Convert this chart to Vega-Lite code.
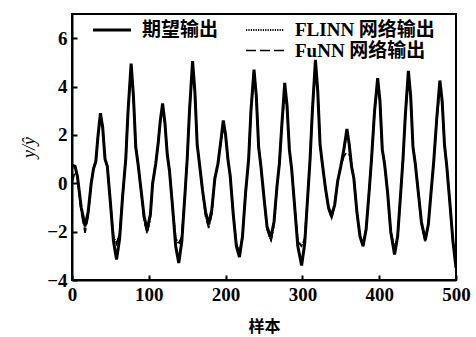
{
  "$schema": "https://vega.github.io/schema/vega-lite/v6.json",
  "width": 384,
  "height": 266,
  "autosize": {"type": "none"},
  "padding": {"left": 72, "top": 14, "right": 20, "bottom": 57},
  "background": "white",
  "config": {
    "view": {"stroke": "black", "strokeWidth": 2},
    "font": "Liberation Serif"
  },
  "data": {"values": [
    {"x":0,"期望输出":0.75,"FLINN 网络输出":0.6,"FuNN 网络输出":0.0},
    {"x":4,"期望输出":0.7,"FLINN 网络输出":0.7,"FuNN 网络输出":0.5},
    {"x":7,"期望输出":0.3,"FLINN 网络输出":0.3,"FuNN 网络输出":0.3},
    {"x":12,"期望输出":-1.0,"FLINN 网络输出":-1.1,"FuNN 网络输出":-1.2},
    {"x":17,"期望输出":-1.75,"FLINN 网络输出":-1.85,"FuNN 网络输出":-2.05},
    {"x":21,"期望输出":-1.2,"FLINN 网络输出":-1.3,"FuNN 网络输出":-1.4},
    {"x":25,"期望输出":0.0,"FLINN 网络输出":0.0,"FuNN 网络输出":0.0},
    {"x":28,"期望输出":0.6,"FLINN 网络输出":0.6,"FuNN 网络输出":0.6},
    {"x":31,"期望输出":0.9,"FLINN 网络输出":0.9,"FuNN 网络输出":0.9},
    {"x":34,"期望输出":2.0,"FLINN 网络输出":2.0,"FuNN 网络输出":2.0},
    {"x":37,"期望输出":2.9,"FLINN 网络输出":2.85,"FuNN 网络输出":2.8},
    {"x":40,"期望输出":2.3,"FLINN 网络输出":2.3,"FuNN 网络输出":2.3},
    {"x":43,"期望输出":1.0,"FLINN 网络输出":1.0,"FuNN 网络输出":1.0},
    {"x":46,"期望输出":0.7,"FLINN 网络输出":0.7,"FuNN 网络输出":0.7},
    {"x":50,"期望输出":-0.8,"FLINN 网络输出":-0.8,"FuNN 网络输出":-0.8},
    {"x":54,"期望输出":-2.4,"FLINN 网络输出":-2.2,"FuNN 网络输出":-2.2},
    {"x":58,"期望输出":-3.15,"FLINN 网络输出":-2.5,"FuNN 网络输出":-2.5},
    {"x":62,"期望输出":-2.3,"FLINN 网络输出":-2.1,"FuNN 网络输出":-2.1},
    {"x":66,"期望输出":-0.5,"FLINN 网络输出":-0.5,"FuNN 网络输出":-0.5},
    {"x":70,"期望输出":1.0,"FLINN 网络输出":1.0,"FuNN 网络输出":1.0},
    {"x":73,"期望输出":3.0,"FLINN 网络输出":3.0,"FuNN 网络输出":3.0},
    {"x":77,"期望输出":4.95,"FLINN 网络输出":4.8,"FuNN 网络输出":4.8},
    {"x":80,"期望输出":3.6,"FLINN 网络输出":3.6,"FuNN 网络输出":3.6},
    {"x":83,"期望输出":1.5,"FLINN 网络输出":1.5,"FuNN 网络输出":1.5},
    {"x":86,"期望输出":0.8,"FLINN 网络输出":0.8,"FuNN 网络输出":0.8},
    {"x":90,"期望输出":-0.3,"FLINN 网络输出":-0.3,"FuNN 网络输出":-0.3},
    {"x":94,"期望输出":-1.4,"FLINN 网络输出":-1.5,"FuNN 网络输出":-1.6},
    {"x":98,"期望输出":-1.9,"FLINN 网络输出":-2.0,"FuNN 网络输出":-2.1},
    {"x":102,"期望输出":-1.3,"FLINN 网络输出":-1.4,"FuNN 网络输出":-1.4},
    {"x":105,"期望输出":0.0,"FLINN 网络输出":0.0,"FuNN 网络输出":0.0},
    {"x":109,"期望输出":0.8,"FLINN 网络输出":0.8,"FuNN 网络输出":0.8},
    {"x":112,"期望输出":1.6,"FLINN 网络输出":1.6,"FuNN 网络输出":1.6},
    {"x":115,"期望输出":2.6,"FLINN 网络输出":2.6,"FuNN 网络输出":2.6},
    {"x":118,"期望输出":3.3,"FLINN 网络输出":3.2,"FuNN 网络输出":3.2},
    {"x":121,"期望输出":2.5,"FLINN 网络输出":2.5,"FuNN 网络输出":2.5},
    {"x":124,"期望输出":1.2,"FLINN 网络输出":1.2,"FuNN 网络输出":1.2},
    {"x":127,"期望输出":0.5,"FLINN 网络输出":0.5,"FuNN 网络输出":0.5},
    {"x":131,"期望输出":-1.0,"FLINN 网络输出":-1.0,"FuNN 网络输出":-1.0},
    {"x":135,"期望输出":-2.6,"FLINN 网络输出":-2.3,"FuNN 网络输出":-2.3},
    {"x":139,"期望输出":-3.3,"FLINN 网络输出":-2.5,"FuNN 网络输出":-2.5},
    {"x":143,"期望输出":-2.4,"FLINN 网络输出":-2.2,"FuNN 网络输出":-2.2},
    {"x":147,"期望输出":-0.5,"FLINN 网络输出":-0.5,"FuNN 网络输出":-0.5},
    {"x":150,"期望输出":1.0,"FLINN 网络输出":1.0,"FuNN 网络输出":1.0},
    {"x":153,"期望输出":3.0,"FLINN 网络输出":3.0,"FuNN 网络输出":3.0},
    {"x":157,"期望输出":5.05,"FLINN 网络输出":4.9,"FuNN 网络输出":4.9},
    {"x":160,"期望输出":3.8,"FLINN 网络输出":3.8,"FuNN 网络输出":3.8},
    {"x":163,"期望输出":1.6,"FLINN 网络输出":1.6,"FuNN 网络输出":1.6},
    {"x":166,"期望输出":0.8,"FLINN 网络输出":0.8,"FuNN 网络输出":0.8},
    {"x":170,"期望输出":-0.3,"FLINN 网络输出":-0.3,"FuNN 网络输出":-0.3},
    {"x":174,"期望输出":-1.2,"FLINN 网络输出":-1.3,"FuNN 网络输出":-1.4},
    {"x":178,"期望输出":-1.7,"FLINN 网络输出":-1.75,"FuNN 网络输出":-1.85},
    {"x":182,"期望输出":-1.1,"FLINN 网络输出":-1.2,"FuNN 网络输出":-1.3},
    {"x":186,"期望输出":0.2,"FLINN 网络输出":0.2,"FuNN 网络输出":0.2},
    {"x":190,"期望输出":0.8,"FLINN 网络输出":0.8,"FuNN 网络输出":0.8},
    {"x":194,"期望输出":1.8,"FLINN 网络输出":1.8,"FuNN 网络输出":1.7},
    {"x":197,"期望输出":2.6,"FLINN 网络输出":2.5,"FuNN 网络输出":2.3},
    {"x":200,"期望输出":2.0,"FLINN 网络输出":2.0,"FuNN 网络输出":2.0},
    {"x":203,"期望输出":1.0,"FLINN 网络输出":1.0,"FuNN 网络输出":1.0},
    {"x":206,"期望输出":0.3,"FLINN 网络输出":0.3,"FuNN 网络输出":0.3},
    {"x":210,"期望输出":-1.3,"FLINN 网络输出":-1.3,"FuNN 网络输出":-1.3},
    {"x":214,"期望输出":-2.6,"FLINN 网络输出":-2.5,"FuNN 网络输出":-2.5},
    {"x":218,"期望输出":-3.05,"FLINN 网络输出":-2.9,"FuNN 网络输出":-2.9},
    {"x":222,"期望输出":-2.2,"FLINN 网络输出":-2.2,"FuNN 网络输出":-2.2},
    {"x":226,"期望输出":-0.4,"FLINN 网络输出":-0.4,"FuNN 网络输出":-0.4},
    {"x":230,"期望输出":1.0,"FLINN 网络输出":1.0,"FuNN 网络输出":1.0},
    {"x":233,"期望输出":3.0,"FLINN 网络输出":3.0,"FuNN 网络输出":3.0},
    {"x":237,"期望输出":4.7,"FLINN 网络输出":4.6,"FuNN 网络输出":4.6},
    {"x":240,"期望输出":3.6,"FLINN 网络输出":3.6,"FuNN 网络输出":3.6},
    {"x":243,"期望输出":1.5,"FLINN 网络输出":1.5,"FuNN 网络输出":1.5},
    {"x":246,"期望输出":0.7,"FLINN 网络输出":0.7,"FuNN 网络输出":0.7},
    {"x":250,"期望输出":-0.6,"FLINN 网络输出":-0.6,"FuNN 网络输出":-0.6},
    {"x":254,"期望输出":-1.8,"FLINN 网络输出":-1.9,"FuNN 网络输出":-1.9},
    {"x":259,"期望输出":-2.25,"FLINN 网络输出":-2.35,"FuNN 网络输出":-2.4},
    {"x":263,"期望输出":-1.6,"FLINN 网络输出":-1.7,"FuNN 网络输出":-1.7},
    {"x":267,"期望输出":-0.1,"FLINN 网络输出":-0.1,"FuNN 网络输出":-0.1},
    {"x":270,"期望输出":0.8,"FLINN 网络输出":0.8,"FuNN 网络输出":0.8},
    {"x":273,"期望输出":2.3,"FLINN 网络输出":2.3,"FuNN 网络输出":2.3},
    {"x":277,"期望输出":4.15,"FLINN 网络输出":3.8,"FuNN 网络输出":3.7},
    {"x":280,"期望输出":3.2,"FLINN 网络输出":3.2,"FuNN 网络输出":3.2},
    {"x":283,"期望输出":1.4,"FLINN 网络输出":1.4,"FuNN 网络输出":1.4},
    {"x":286,"期望输出":0.6,"FLINN 网络输出":0.6,"FuNN 网络输出":0.6},
    {"x":290,"期望输出":-1.0,"FLINN 网络输出":-1.0,"FuNN 网络输出":-1.0},
    {"x":294,"期望输出":-2.6,"FLINN 网络输出":-2.4,"FuNN 网络输出":-2.4},
    {"x":299,"期望输出":-3.4,"FLINN 网络输出":-2.6,"FuNN 网络输出":-2.6},
    {"x":303,"期望输出":-2.5,"FLINN 网络输出":-2.3,"FuNN 网络输出":-2.3},
    {"x":307,"期望输出":-0.5,"FLINN 网络输出":-0.5,"FuNN 网络输出":-0.5},
    {"x":310,"期望输出":1.0,"FLINN 网络输出":1.0,"FuNN 网络输出":1.0},
    {"x":313,"期望输出":3.0,"FLINN 网络输出":3.0,"FuNN 网络输出":3.0},
    {"x":317,"期望输出":5.1,"FLINN 网络输出":4.95,"FuNN 网络输出":4.95},
    {"x":320,"期望输出":3.8,"FLINN 网络输出":3.8,"FuNN 网络输出":3.8},
    {"x":323,"期望输出":1.6,"FLINN 网络输出":1.6,"FuNN 网络输出":1.6},
    {"x":326,"期望输出":0.8,"FLINN 网络输出":0.8,"FuNN 网络输出":0.8},
    {"x":330,"期望输出":-0.2,"FLINN 网络输出":-0.2,"FuNN 网络输出":-0.2},
    {"x":334,"期望输出":-1.0,"FLINN 网络输出":-1.0,"FuNN 网络输出":-1.1},
    {"x":338,"期望输出":-1.35,"FLINN 网络输出":-1.4,"FuNN 网络输出":-1.45},
    {"x":342,"期望输出":-0.9,"FLINN 网络输出":-0.9,"FuNN 网络输出":-0.9},
    {"x":346,"期望输出":0.1,"FLINN 网络输出":0.1,"FuNN 网络输出":0.1},
    {"x":350,"期望输出":0.7,"FLINN 网络输出":0.7,"FuNN 网络输出":0.7},
    {"x":354,"期望输出":1.4,"FLINN 网络输出":1.4,"FuNN 网络输出":1.1},
    {"x":358,"期望输出":2.25,"FLINN 网络输出":2.1,"FuNN 网络输出":1.3},
    {"x":361,"期望输出":1.6,"FLINN 网络输出":1.6,"FuNN 网络输出":1.2},
    {"x":364,"期望输出":0.7,"FLINN 网络输出":0.7,"FuNN 网络输出":0.7},
    {"x":367,"期望输出":0.2,"FLINN 网络输出":0.2,"FuNN 网络输出":0.2},
    {"x":371,"期望输出":-1.2,"FLINN 网络输出":-1.2,"FuNN 网络输出":-1.2},
    {"x":375,"期望输出":-2.2,"FLINN 网络输出":-2.2,"FuNN 网络输出":-2.2},
    {"x":379,"期望输出":-2.6,"FLINN 网络输出":-2.5,"FuNN 网络输出":-2.5},
    {"x":383,"期望输出":-1.9,"FLINN 网络输出":-1.9,"FuNN 网络输出":-1.9},
    {"x":387,"期望输出":-0.3,"FLINN 网络输出":-0.3,"FuNN 网络输出":-0.3},
    {"x":390,"期望输出":1.0,"FLINN 网络输出":1.0,"FuNN 网络输出":1.0},
    {"x":394,"期望输出":3.0,"FLINN 网络输出":3.0,"FuNN 网络输出":3.0},
    {"x":398,"期望输出":4.35,"FLINN 网络输出":4.2,"FuNN 网络输出":4.2},
    {"x":401,"期望输出":3.4,"FLINN 网络输出":3.4,"FuNN 网络输出":3.4},
    {"x":404,"期望输出":1.4,"FLINN 网络输出":1.4,"FuNN 网络输出":1.4},
    {"x":407,"期望输出":0.8,"FLINN 网络输出":0.8,"FuNN 网络输出":0.8},
    {"x":411,"期望输出":-0.4,"FLINN 网络输出":-0.4,"FuNN 网络输出":-0.4},
    {"x":415,"期望输出":-2.0,"FLINN 网络输出":-2.0,"FuNN 网络输出":-2.0},
    {"x":420,"期望输出":-2.95,"FLINN 网络输出":-2.7,"FuNN 网络输出":-2.7},
    {"x":424,"期望输出":-2.2,"FLINN 网络输出":-2.2,"FuNN 网络输出":-2.2},
    {"x":428,"期望输出":-0.4,"FLINN 网络输出":-0.4,"FuNN 网络输出":-0.4},
    {"x":431,"期望输出":1.0,"FLINN 网络输出":1.0,"FuNN 网络输出":1.0},
    {"x":434,"期望输出":2.8,"FLINN 网络输出":2.8,"FuNN 网络输出":2.8},
    {"x":438,"期望输出":4.65,"FLINN 网络输出":4.5,"FuNN 网络输出":4.5},
    {"x":441,"期望输出":3.6,"FLINN 网络输出":3.6,"FuNN 网络输出":3.6},
    {"x":444,"期望输出":1.5,"FLINN 网络输出":1.5,"FuNN 网络输出":1.5},
    {"x":447,"期望输出":0.8,"FLINN 网络输出":0.8,"FuNN 网络输出":0.8},
    {"x":451,"期望输出":-0.4,"FLINN 网络输出":-0.4,"FuNN 网络输出":-0.4},
    {"x":455,"期望输出":-1.6,"FLINN 网络输出":-1.7,"FuNN 网络输出":-1.7},
    {"x":460,"期望输出":-2.35,"FLINN 网络输出":-2.3,"FuNN 网络输出":-2.4},
    {"x":464,"期望输出":-1.7,"FLINN 网络输出":-1.7,"FuNN 网络输出":-1.7},
    {"x":468,"期望输出":-0.2,"FLINN 网络输出":-0.2,"FuNN 网络输出":-0.2},
    {"x":471,"期望输出":0.9,"FLINN 网络输出":0.9,"FuNN 网络输出":0.9},
    {"x":475,"期望输出":2.7,"FLINN 网络输出":2.7,"FuNN 网络输出":2.7},
    {"x":479,"期望输出":4.25,"FLINN 网络输出":4.1,"FuNN 网络输出":3.8},
    {"x":482,"期望输出":3.4,"FLINN 网络输出":3.4,"FuNN 网络输出":3.3},
    {"x":485,"期望输出":1.6,"FLINN 网络输出":1.6,"FuNN 网络输出":1.6},
    {"x":488,"期望输出":0.7,"FLINN 网络输出":0.7,"FuNN 网络输出":0.7},
    {"x":492,"期望输出":-0.8,"FLINN 网络输出":-0.8,"FuNN 网络输出":-0.8},
    {"x":496,"期望输出":-2.4,"FLINN 网络输出":-2.4,"FuNN 网络输出":-2.4},
    {"x":500,"期望输出":-3.5,"FLINN 网络输出":-3.3,"FuNN 网络输出":-3.3}
  ]},
  "transform": [
    {"fold": ["期望输出", "FLINN 网络输出", "FuNN 网络输出"], "as": ["s", "y"]}
  ],
  "mark": {"type": "line", "clip": true},
  "encoding": {
    "x": {
      "field": "x", "type": "quantitative",
      "scale": {"domain": [0, 500], "nice": false},
      "axis": {
        "title": "样本", "values": [0, 100, 200, 300, 400, 500],
        "grid": false, "domainColor": "black", "domainWidth": 2,
        "tickColor": "black", "tickWidth": 2, "tickSize": -5,
        "labelFont": "Liberation Serif", "labelFontWeight": "bold", "labelFontSize": 19,
        "labelColor": "black", "labelPadding": 10, "labelFlush": false,
        "titleFont": "Noto Sans CJK SC", "titleFontWeight": "bold", "titleFontSize": 16,
        "titleColor": "black", "titlePadding": 14
      }
    },
    "y": {
      "field": "y", "type": "quantitative",
      "scale": {"domain": [-4, 7], "nice": false},
      "axis": {
        "title": "y/ŷ", "values": [-4, -2, 0, 2, 4, 6],
        "grid": false, "domainColor": "black", "domainWidth": 2,
        "tickColor": "black", "tickWidth": 2, "tickSize": -5,
        "labelFont": "Liberation Serif", "labelFontWeight": "bold", "labelFontSize": 19,
        "labelColor": "black", "labelPadding": 10, "labelFlush": false,
        "titleFont": "Liberation Serif", "titleFontStyle": "italic", "titleFontWeight": "normal",
        "titleFontSize": 18, "titleColor": "black", "titleX": -34, "titleY": 133,
        "titleAngle": -90
      }
    },
    "strokeDash": {
      "field": "s", "type": "nominal",
      "scale": {"domain": ["期望输出", " ", "FLINN 网络输出", "FuNN 网络输出"],
                "range": [[1, 0], [1, 0], [1.2, 1.2], [10, 4]]},
      "legend": {
        "title": null, "orient": "none", "legendX": 21, "legendY": 5,
        "columns": 2, "columnPadding": 22, "rowPadding": 0,
        "symbolType": "M-2,0H2", "symbolSize": 361, "symbolOffset": 8, "symbolStrokeColor": "black",
        "labelFont": "Liberation Serif, Noto Sans CJK SC", "labelFontWeight": "bold",
        "labelFontSize": 19, "labelColor": "black", "labelOffset": 19, "padding": 0
      }
    },
    "color": {
      "field": "s", "type": "nominal",
      "scale": {"domain": ["期望输出", " ", "FLINN 网络输出", "FuNN 网络输出"],
                "range": ["black", "rgba(0,0,0,0)", "black", "black"]},
      "legend": {
        "title": null, "orient": "none", "legendX": 21, "legendY": 5,
        "columns": 2, "columnPadding": 22, "rowPadding": 0,
        "symbolType": "M-2,0H2", "symbolSize": 361, "symbolOffset": 8,
        "labelFont": "Liberation Serif, Noto Sans CJK SC", "labelFontWeight": "bold",
        "labelFontSize": 19, "labelColor": "black", "labelOffset": 19, "padding": 0
      }
    },
    "strokeWidth": {
      "field": "s", "type": "nominal",
      "scale": {"domain": ["期望输出", " ", "FLINN 网络输出", "FuNN 网络输出"],
                "range": [3, 1.6, 1.6, 1.8]},
      "legend": null
    }
  }
}
